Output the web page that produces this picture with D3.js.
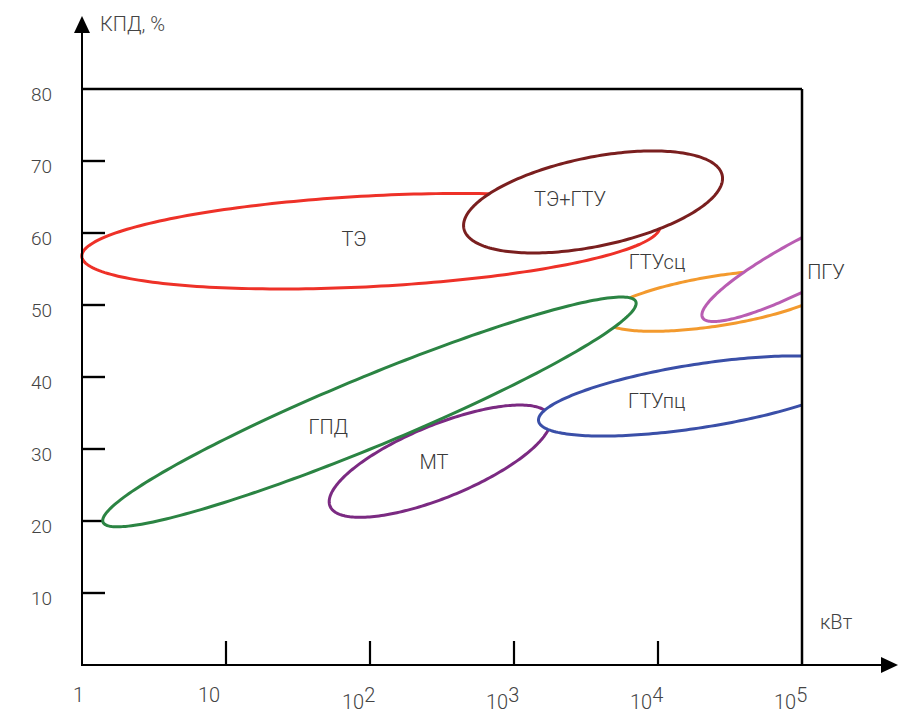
<!DOCTYPE html>
<html>
<head>
<meta charset="utf-8">
<script src="https://cdn.jsdelivr.net/npm/d3@7/dist/d3.min.js"></script>
<style>
  html, body { margin: 0; padding: 0; background: #fff; }
  svg { display: block; font-family: Roboto, "Noto Sans", sans-serif; font-weight: 300; }
</style>
</head>
<body>
<svg id="chart" width="903" height="713"></svg>
<script>
// ---- data ----
const yTicks = [10, 20, 30, 40, 50, 60, 70, 80];
const xTicks = [1, 10, 100, 1000, 10000, 100000];
const xTickBase = ["1", "10", "10", "10", "10", "10"];
const xTickExp = ["", "", "2", "3", "4", "5"];

// regions (draw order), each an ellipse given by centre, end of one diameter and end of its conjugate diameter
const regionNames = ["МТ", "ГТУсц", "ГПД", "ГТУпц", "ТЭ", "ТЭ+ГТУ", "ПГУ"];
const regionColors = ["#7b2a82", "#f39a2e", "#2b8443", "#3a4fa8", "#ee3128", "#7a1f1f", "#b95db2"];
const centerKW  = [306, 26120, 99.1, 19100, 101.6, 3540, 112700];
const centerPct = [28.31, 50.59, 35.15, 37.36, 58.86, 64.31, 56.08];
const tipKW     = [1774, 164400, 7015, 246600, 10350, 27930, 629500];
const tipPct    = [34.56, 52.99, 50.47, 40.69, 60.97, 68.0, 63.54];
const conjKW    = [381, 26120, 122.4, 19100, 105.7, 4083, 112700];
const conjPct   = [23.65, 47.09, 30.69, 32.90, 52.57, 58.26, 52.27];

// label positions
const labelText = ["ТЭ", "ТЭ+ГТУ", "ГТУсц", "ПГУ", "ГПД", "МТ", "ГТУпц"];
const labelKW   = [77.4, 2449, 9840, 146800, 51.3, 278, 9794];
const labelPct  = [59.17, 64.72, 55.97, 54.63, 33.1, 28.13, 36.7];

// ---- drawing ----
const svg = d3.select("#chart");
const x = d3.scaleLog().domain([1, 100000]).range([82, 802]);
const y = d3.scaleLinear().domain([0, 80]).range([665, 89]);
const x0 = x(1), x1 = x(100000), y0 = y(0), yTop = y(80);

svg.append("defs").append("clipPath").attr("id", "clipR")
  .append("rect").attr("x", 0).attr("y", 0).attr("width", x1).attr("height", 713);

const axisColor = "#000";
const textColor = "#444";

// ticks
svg.append("g").selectAll("line").data(yTicks.filter(d => d < 80)).join("line")
  .attr("x1", x0).attr("x2", x0 + 23)
  .attr("y1", d => y(d)).attr("y2", d => y(d))
  .attr("stroke", axisColor).attr("stroke-width", 2.4);

svg.append("g").selectAll("line").data(xTicks.slice(1, 5)).join("line")
  .attr("x1", d => x(d)).attr("x2", d => x(d))
  .attr("y1", y0).attr("y2", y0 - 24)
  .attr("stroke", axisColor).attr("stroke-width", 2.2);

// ellipses
const g = svg.append("g").attr("clip-path", "url(#clipR)");
const N = 240;
regionNames.forEach((name, i) => {
  const cu = Math.log10(centerKW[i]), cp = centerPct[i];
  const au = Math.log10(tipKW[i]) - cu, ap = tipPct[i] - cp;
  const bu = Math.log10(conjKW[i]) - cu, bp = conjPct[i] - cp;
  const pts = d3.range(N).map(k => {
    const t = 2 * Math.PI * k / N;
    const u = cu + au * Math.cos(t) + bu * Math.sin(t);
    const p = cp + ap * Math.cos(t) + bp * Math.sin(t);
    return [x(Math.pow(10, u)), y(p)];
  });
  g.append("path")
    .attr("d", d3.line().curve(d3.curveLinearClosed)(pts))
    .attr("fill", "#fff")
    .attr("stroke", regionColors[i])
    .attr("stroke-width", 3);
});

// frame and axes
svg.append("line").attr("x1", x0).attr("x2", x1).attr("y1", yTop).attr("y2", yTop)
  .attr("stroke", axisColor).attr("stroke-width", 2.5);
svg.append("line").attr("x1", x1).attr("x2", x1).attr("y1", yTop).attr("y2", y0)
  .attr("stroke", axisColor).attr("stroke-width", 2.5);
svg.append("line").attr("x1", x0).attr("x2", x0).attr("y1", y0).attr("y2", 30)
  .attr("stroke", axisColor).attr("stroke-width", 2);
svg.append("line").attr("x1", x0 - 1).attr("x2", 884).attr("y1", y0).attr("y2", y0)
  .attr("stroke", axisColor).attr("stroke-width", 2.2);
// arrows
svg.append("path").attr("d", `M${x0},16 L${x0 - 8},33 L${x0 + 8},33 Z`).attr("fill", axisColor);
svg.append("path").attr("d", `M898,${y0} L881,${y0 - 8} L881,${y0 + 8} Z`).attr("fill", axisColor);

// y tick labels
svg.append("g").selectAll("text").data(yTicks).join("text")
  .attr("x", 52).attr("y", d => y(d) + 12)
  .attr("text-anchor", "end")
  .attr("font-size", 19).attr("fill", textColor)
  .text(d => d);

// x tick labels
const xl = svg.append("g").selectAll("text").data(xTicks).join("text")
  .attr("x", (d, i) => x(d) + (i === 0 ? -9 : -28))
  .attr("y", (d, i) => i < 2 ? 702 : 709)
  .attr("text-anchor", "start")
  .attr("font-size", 20).attr("fill", textColor);
xl.append("tspan").text((d, i) => xTickBase[i]);
xl.append("tspan").attr("dy", (d, i) => xTickExp[i] ? -7.5 : 0)
  .text((d, i) => xTickExp[i]);

// axis titles
svg.append("text").attr("x", 100).attr("y", 31).attr("font-size", 20)
  .attr("fill", textColor).text("КПД, %");
svg.append("text").attr("x", 820).attr("y", 629).attr("font-size", 20)
  .attr("fill", textColor).text("кВт");

// region labels
svg.append("g").selectAll("text").data(labelText).join("text")
  .attr("x", (d, i) => x(labelKW[i])).attr("y", (d, i) => y(labelPct[i]))
  .attr("text-anchor", "middle").attr("dominant-baseline", "central")
  .attr("font-size", 20).attr("fill", "#3a3a3a")
  .text(d => d);
</script>
</body>
</html>
